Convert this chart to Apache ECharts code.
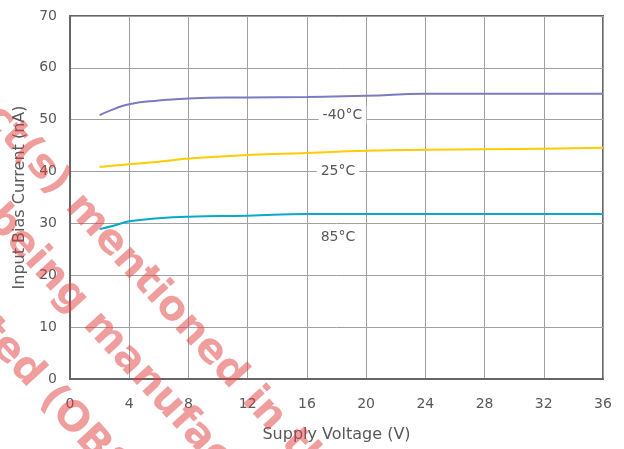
<!DOCTYPE html>
<html>
<head>
<meta charset="utf-8">
<script src="https://cdn.jsdelivr.net/npm/echarts@6/dist/echarts.min.js"></script>
<style>
  html, body { margin: 0; padding: 0; background: #fff; }
  #myChart { width: 624px; height: 449px; }
</style>
</head>
<body>
<div id="myChart"></div>
<script>
// supply voltage (V)
var voltage = [2, 3, 4, 6, 8, 12, 16, 20, 24, 28, 32, 36];
// input bias current (nA) per temperature
var biasM40 = [50.9, 52.1, 53.0, 53.7, 54.1, 54.3, 54.4, 54.6, 55.0, 55.0, 55.0, 55.0];
var bias25 = [40.9, 41.15, 41.4, 41.9, 42.5, 43.2, 43.6, 44.0, 44.2, 44.3, 44.4, 44.6];
var bias85 = [28.9, 29.6, 30.4, 31.0, 31.3, 31.5, 31.8, 31.8, 31.8, 31.8, 31.8, 31.8];
var xTicks = [0, 4, 8, 12, 16, 20, 24, 28, 32, 36];
var yTicks = [0, 10, 20, 30, 40, 50, 60, 70];
// curve labels: [name, x, y]
var curveLabels = [['-40°C', 18.4, 50.9], ['25°C', 18.1, 40.1], ['85°C', 18.1, 27.4]];

function pairs(ys) {
    return voltage.map(function (v, i) { return [v, ys[i]]; });
}

var textColor = '#595959';
var font = 'DejaVu Sans';

function labelPoint(lab) {
    return {
        symbol: 'rect',
        symbolSize: 1,
        silent: true,
        itemStyle: { color: 'rgba(0,0,0,0)' },
        data: [{
            coord: [lab[1], lab[2]],
            value: lab[0],
            label: {
                show: true,
                position: 'inside',
                formatter: lab[0],
                color: textColor,
                fontFamily: font,
                fontSize: 14,
                backgroundColor: '#fff',
                padding: [2, 4]
            }
        }]
    };
}

function lineSeries(name, ys, color, lab) {
    return {
        name: name,
        type: 'line',
        data: pairs(ys),
        smooth: true,
        symbol: 'none',
        lineStyle: { color: color, width: 2 },
        markPoint: labelPoint(lab),
        z: 3
    };
}

// watermark pieces: anchor point, rotation, text before and after anchor
var wmAngle = -0.83;
var wmStyle = {
    fill: 'rgba(226, 60, 60, 0.5)',
    fontFamily: font,
    fontWeight: 'bold',
    fontSize: 41
};
function wm(x, y, before, after) {
    return [
        { type: 'text', x: x, y: y, rotation: wmAngle, z: 100, silent: true,
          style: Object.assign({ text: before, align: 'right', verticalAlign: 'middle' }, wmStyle) },
        { type: 'text', x: x, y: y, rotation: wmAngle, z: 100, silent: true,
          style: Object.assign({ text: after, align: 'left', verticalAlign: 'middle' }, wmStyle) }
    ];
}

var option = {
    animation: false,
    backgroundColor: '#fff',
    grid: {
        left: 70, right: 21, top: 16, bottom: 70,
        show: true,
        borderColor: '#666',
        borderWidth: 2
    },
    xAxis: {
        type: 'value',
        min: xTicks[0],
        max: xTicks[xTicks.length - 1],
        interval: 4,
        name: 'Supply Voltage (V)',
        nameLocation: 'middle',
        nameGap: 48,
        nameTextStyle: { color: textColor, fontFamily: font, fontSize: 16 },
        axisLine: { lineStyle: { color: '#666', width: 2 } },
        axisTick: { show: false },
        axisLabel: { color: textColor, fontFamily: font, fontSize: 14, margin: 18 },
        splitLine: { lineStyle: { color: '#a0a0a0', width: 1 } }
    },
    yAxis: {
        type: 'value',
        min: yTicks[0],
        max: yTicks[yTicks.length - 1],
        interval: 10,
        name: 'Input Bias Current (nA)',
        nameLocation: 'middle',
        nameGap: 42,
        nameTextStyle: { color: textColor, fontFamily: font, fontSize: 16 },
        axisLine: { show: true, lineStyle: { color: '#666', width: 2 } },
        axisTick: { show: false },
        axisLabel: { color: textColor, fontFamily: font, fontSize: 14, margin: 13 },
        splitLine: { lineStyle: { color: '#a0a0a0', width: 1 } }
    },
    series: [
        lineSeries('-40°C', biasM40, '#7b7bc2', curveLabels[0]),
        lineSeries('25°C', bias25, '#ffcc00', curveLabels[1]),
        lineSeries('85°C', bias85, '#0aa8cc', curveLabels[2])
    ],
    graphic: [].concat(
        wm(72, 200, 'Product(s) ', 'mentioned in this datasheet'),
        wm(90, 318, 'is/are no longer being ', 'manufactured'),
        wm(46, 392, 'or no longer supported ', '(OBSOLETE)')
    )
};

var myChart = echarts.init(document.getElementById('myChart'), null, { renderer: 'canvas' });
myChart.setOption(option);
</script>
</body>
</html>
